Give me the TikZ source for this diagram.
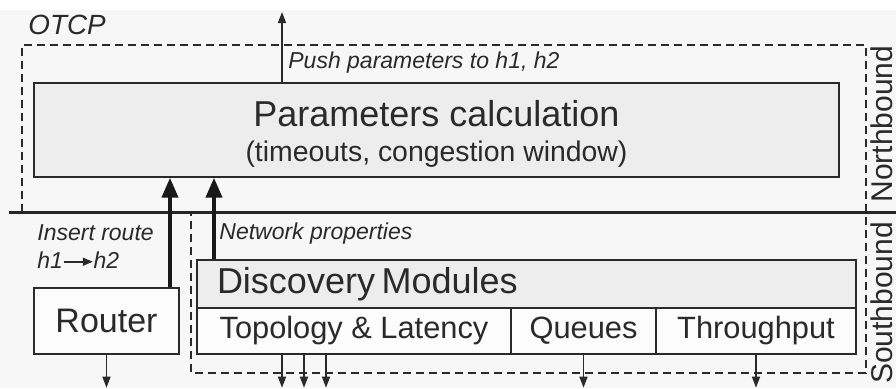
\documentclass[tikz,border=0pt]{standalone}
\usepackage{fontspec}
\setmainfont{Liberation Sans}
\usepackage{tikz}
\usetikzlibrary{arrows.meta}
\definecolor{bgGrey}{HTML}{F7F7F7}
\definecolor{boxGrey}{HTML}{EDEDED}
\definecolor{inkGrey}{HTML}{2A2A2A}
\tikzset{%
  tipS/.tip={Triangle[length=5.5pt,width=4pt]},
  tipL/.tip={Triangle[length=10pt,width=8pt]},
  modbox/.style={draw=inkGrey, line width=0.7pt, fill=white!60!bgGrey, inner sep=0pt, text=inkGrey},
  greybox/.style={modbox, fill=boxGrey},
  thinarr/.style={inkGrey, line width=0.75pt, -tipS},
  thickarr/.style={black!90, line width=2pt, -tipL},
  note/.style={font=\fontsize{11.5}{14}\selectfont\itshape, text=inkGrey, inner sep=0pt, anchor=west},
  side/.style={rotate=90, anchor=base, font=\fontsize{15}{18}\selectfont, text=inkGrey, inner sep=0pt}
}
\newcommand{\hostarrow}{\tikz[baseline=0pt]\draw[inkGrey, line width=0.8pt, -{Triangle[length=5pt,width=4pt]}] (0.5pt,3.6pt) -- (15pt,3.6pt);}

\begin{document}
\begin{tikzpicture}[x=0.5pt,y=-0.5pt]
\useasboundingbox (0,0) rectangle (896,388);
\fill[bgGrey] (0,10) rectangle (896,388);
% OTCP frame and north/south split
\draw[inkGrey, line width=0.6pt, dash pattern=on 4pt off 2.5pt] (22,212) -- (22,45) -- (866,45) -- (866,373) -- (191,373) -- (191,212);
\draw[black!85, line width=1.5pt] (9,212.5) -- (896,212.5);
% boxes
\node[greybox, minimum width=402.5pt, minimum height=47pt, align=center] (params) at (436.5,130)
  {\fontsize{18}{22}\selectfont\rule{0pt}{17pt}Parameters calculation\\[5.5pt]\fontsize{14.2}{16.5}\selectfont (timeouts, congestion window)};
\node[modbox, minimum width=72.5pt, minimum height=33pt] (router) at (106.5,321) {\fontsize{17}{20}\selectfont Router};
\node[greybox, minimum width=329.5pt, minimum height=24pt, text width=309.5pt, inner xsep=10pt, align=left] (disc) at (526.5,284)
  {\fontsize{18}{21}\selectfont Discovery Modules};
\node[modbox, minimum width=157pt, minimum height=23pt] (topo) at (354,331) {\fontsize{15.4}{18}\selectfont Topology \& Latency};
\node[modbox, minimum width=72.5pt, minimum height=23pt] (queues) at (583.5,331) {\fontsize{15.4}{18}\selectfont Queues};
\node[modbox, minimum width=100pt, minimum height=23pt] (thru) at (756,331) {\fontsize{15.4}{18}\selectfont Throughput};
% labels
\node[note, font=\fontsize{13.9}{16}\selectfont\itshape] (otcp) at (28,25) {OTCP};
\node[note] (push) at (288,63) {Push parameters to h1, h2};
\node[note, align=left] (insert) at (37,247) {Insert route\\h1\hostarrow h2};
\node[note] (netprop) at (219,234) {Network properties};
\node[side] (north) at (892,124) {Northbound};
\node[side] (south) at (892,303) {Southbound};
% arrows
\coordinate (pushtop) at (282,12);
\coordinate (upA) at (170,0);
\coordinate (upB) at (214,0);
\draw[thinarr] (pushtop |- params.north) -- (pushtop);
\draw[thickarr] (upA |- router.north) -- (upA |- params.south);
\draw[thickarr] (upB |- disc.north) -- (upB |- params.south);
\draw[thinarr] (router.south) -- ++(0,33);
\foreach \dx in {-36,-25,-14}
  \draw[thinarr] ([xshift=\dx pt]topo.south) -- ++(0,33);
\draw[thinarr] (queues.south) -- ++(0,33);
\draw[thinarr] (thru.south) -- ++(0,33);
\end{tikzpicture}
\end{document}
